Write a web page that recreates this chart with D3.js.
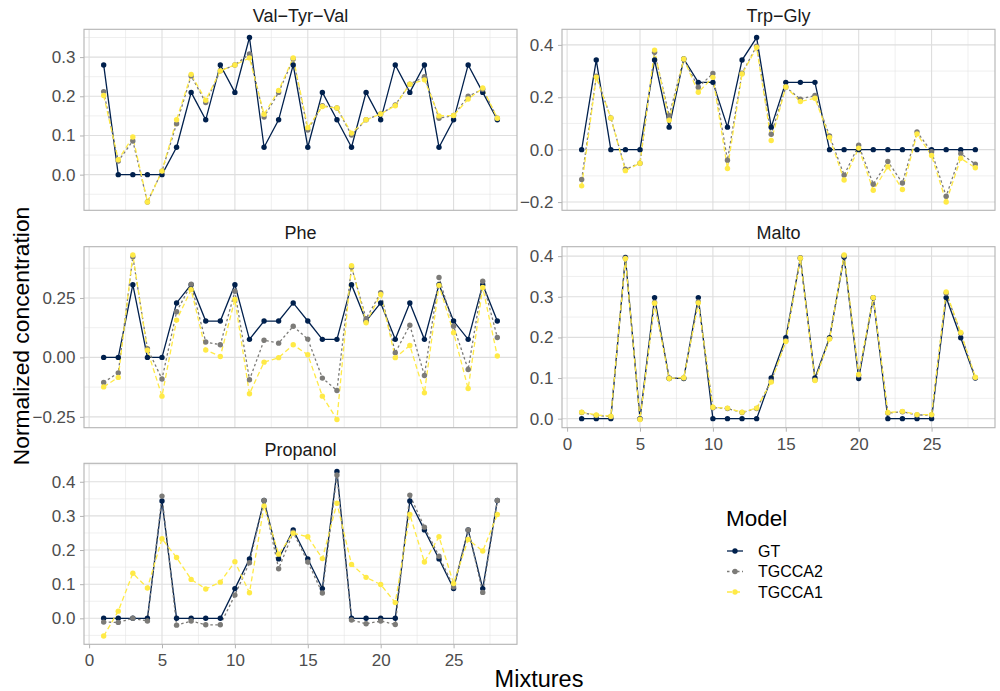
<!DOCTYPE html>
<html>
<head>
<meta charset="utf-8">
<script src="https://cdn.jsdelivr.net/npm/d3@7"></script>
<style>
    body { margin: 0; background: #fff; }
    svg text { font-family: "Liberation Sans", Arial, Helvetica, sans-serif; }
</style>
</head>
<body>
<div id="chart"></div>
<script>
var mixtures = [1, 2, 3, 4, 5, 6, 7, 8, 9, 10, 11, 12, 13, 14, 15, 16, 17, 18, 19, 20, 21, 22, 23, 24, 25, 26, 27, 28];
var models = ["GT", "TGCCA2", "TGCCA1"];

var valTyrValGT = [0.28, 0, 0, 0, 0, 0.07, 0.21, 0.14, 0.28, 0.21, 0.35, 0.07, 0.14, 0.28, 0.07, 0.21, 0.14, 0.07, 0.21, 0.14, 0.28, 0.21, 0.28, 0.07, 0.14, 0.28, 0.21, 0.14];
var valTyrValTGCCA2 = [0.212, 0.035, 0.086, -0.07, 0.009, 0.13, 0.252, 0.184, 0.265, 0.28, 0.308, 0.147, 0.21, 0.295, 0.114, 0.176, 0.17, 0.101, 0.14, 0.155, 0.178, 0.231, 0.25, 0.144, 0.151, 0.2, 0.218, 0.144];
var valTyrValTGCCA1 = [0.202, 0.038, 0.096, -0.07, 0.009, 0.14, 0.256, 0.19, 0.265, 0.28, 0.298, 0.154, 0.215, 0.298, 0.12, 0.174, 0.17, 0.106, 0.14, 0.155, 0.176, 0.231, 0.242, 0.15, 0.151, 0.193, 0.221, 0.144];

var trpGlyGT = [0, 0.342, 0, 0, 0, 0.342, 0.086, 0.346, 0.257, 0.257, 0.086, 0.342, 0.428, 0.086, 0.257, 0.257, 0.257, 0, 0, 0, 0, 0, 0, 0, 0, 0, 0, 0];
var trpGlyTGCCA2 = [-0.114, 0.28, 0.121, -0.075, -0.052, 0.372, 0.13, 0.346, 0.238, 0.291, -0.04, 0.292, 0.395, 0.059, 0.239, 0.193, 0.207, 0.052, -0.097, 0.017, -0.132, -0.045, -0.127, 0.068, -0.008, -0.178, -0.015, -0.055];
var trpGlyTGCCA1 = [-0.138, 0.277, 0.121, -0.08, -0.052, 0.38, 0.112, 0.346, 0.219, 0.276, -0.072, 0.289, 0.39, 0.035, 0.239, 0.184, 0.196, 0.047, -0.116, 0.006, -0.155, -0.065, -0.152, 0.06, -0.022, -0.2, -0.033, -0.069];

var pheGT = [0, 0, 0.306, 0, 0, 0.229, 0.306, 0.153, 0.153, 0.306, 0.076, 0.153, 0.153, 0.229, 0.153, 0.076, 0.076, 0.306, 0.153, 0.229, 0.076, 0.229, 0.076, 0.306, 0.153, 0.076, 0.306, 0.153];
var pheTGCCA2 = [-0.105, -0.065, 0.423, 0.037, -0.091, 0.192, 0.308, 0.065, 0.053, 0.278, -0.094, 0.072, 0.06, 0.131, 0.077, -0.087, -0.139, 0.38, 0.163, 0.272, 0.02, 0.135, -0.076, 0.336, 0.131, -0.051, 0.32, 0.084];
var pheTGCCA1 = [-0.124, -0.084, 0.431, 0.03, -0.163, 0.157, 0.285, 0.031, 0.004, 0.244, -0.153, -0.02, -0.001, 0.053, 0.011, -0.163, -0.261, 0.386, 0.146, 0.265, -0.001, 0.05, -0.149, 0.303, 0.104, -0.131, 0.294, 0.006];

var maltoGT = [0, 0, 0, 0.397, 0, 0.298, 0.099, 0.099, 0.298, 0, 0, 0, 0, 0.1, 0.199, 0.395, 0.1, 0.199, 0.398, 0.099, 0.298, 0, 0, 0, 0, 0.298, 0.199, 0.1];
var maltoTGCCA2 = [0.015, 0.008, 0.005, 0.395, -0.001, 0.286, 0.1, 0.1, 0.287, 0.027, 0.025, 0.015, 0.025, 0.092, 0.192, 0.396, 0.095, 0.197, 0.401, 0.107, 0.297, 0.014, 0.017, 0.009, 0.009, 0.309, 0.21, 0.101];
var maltoTGCCA1 = [0.016, 0.009, 0.006, 0.394, -0.002, 0.284, 0.099, 0.101, 0.285, 0.028, 0.026, 0.016, 0.026, 0.09, 0.19, 0.395, 0.094, 0.196, 0.403, 0.109, 0.298, 0.015, 0.018, 0.01, 0.01, 0.312, 0.212, 0.102];

var propanolGT = [0, 0, 0, 0, 0.344, 0, 0, 0, 0, 0.087, 0.174, 0.345, 0.174, 0.259, 0.174, 0.087, 0.43, 0, 0, 0, 0, 0.344, 0.259, 0.174, 0.087, 0.259, 0.087, 0.345];
var propanolTGCCA2 = [-0.011, -0.012, 0, -0.008, 0.358, -0.02, -0.008, -0.019, -0.019, 0.068, 0.163, 0.345, 0.145, 0.252, 0.165, 0.074, 0.42, -0.005, -0.016, -0.008, -0.018, 0.361, 0.267, 0.182, 0.092, 0.259, 0.076, 0.345];
var propanolTGCCA1 = [-0.052, 0.021, 0.132, 0.089, 0.233, 0.178, 0.114, 0.086, 0.106, 0.166, 0.075, 0.329, 0.188, 0.249, 0.239, 0.175, 0.337, 0.158, 0.12, 0.099, 0.046, 0.304, 0.165, 0.239, 0.102, 0.231, 0.197, 0.304];

var xTicks = [0, 5, 10, 15, 20, 25];
var valTyrValTicks = [0, 0.1, 0.2, 0.3];
var trpGlyTicks = [-0.2, 0, 0.2, 0.4];
var pheTicks = [-0.25, 0, 0.25];
var maltoTicks = [0, 0.1, 0.2, 0.3, 0.4];
var propanolTicks = [0, 0.1, 0.2, 0.3, 0.4];

var colorScale = d3.scaleOrdinal()
    .domain(models)
    .range(["#00204D", "#7C7B78", "#FFEA46"]);
var dashScale = d3.scaleOrdinal()
    .domain(models)
    .range([null, "2.5,2.5", "5,3"]);

var panels = [
    { title: "Val\u2212Tyr\u2212Val", series: [valTyrValGT, valTyrValTGCCA2, valTyrValTGCCA1], ticks: valTyrValTicks, digits: 1, col: 0, row: 0, xAxis: false },
    { title: "Trp\u2212Gly", series: [trpGlyGT, trpGlyTGCCA2, trpGlyTGCCA1], ticks: trpGlyTicks, digits: 1, col: 1, row: 0, xAxis: false },
    { title: "Phe", series: [pheGT, pheTGCCA2, pheTGCCA1], ticks: pheTicks, digits: 2, col: 0, row: 1, xAxis: false },
    { title: "Malto", series: [maltoGT, maltoTGCCA2, maltoTGCCA1], ticks: maltoTicks, digits: 1, col: 1, row: 1, xAxis: true },
    { title: "Propanol", series: [propanolGT, propanolTGCCA2, propanolTGCCA1], ticks: propanolTicks, digits: 1, col: 0, row: 2, xAxis: true }
];

var width = 1000, height = 691;
var colLeft = [84, 562],
    rowTop = [29.3, 246.7, 463.3],
    panelW = 433,
    panelH = 181;

var svg = d3.select("#chart").append("svg")
    .attr("width", width)
    .attr("height", height);

svg.append("rect").attr("width", width).attr("height", height).attr("fill", "#fff");

panels.forEach(function(p) {
    var g = svg.append("g")
        .attr("transform", "translate(" + colLeft[p.col] + "," + rowTop[p.row] + ")");

    var x = d3.scaleLinear().domain([-0.35, 29.35]).range([0, panelW]);

    var ext = d3.extent(d3.merge(p.series));
    var pad = (ext[1] - ext[0]) * 0.05;
    var y = d3.scaleLinear().domain([ext[0] - pad, ext[1] + pad]).range([panelH, 0]);

    // minor breaks halfway between majors
    var step = p.ticks[1] - p.ticks[0];
    var yMinor = p.ticks.map(function(t) { return t - step / 2; })
        .concat([p.ticks[p.ticks.length - 1] + step / 2])
        .filter(function(v) { return v >= y.domain()[0] && v <= y.domain()[1]; });
    var xMinor = xTicks.map(function(t) { return t + 2.5; })
        .filter(function(v) { return v <= x.domain()[1]; });

    g.append("rect")
        .attr("width", panelW)
        .attr("height", panelH)
        .attr("fill", "#fff");

    g.selectAll(".ymin").data(yMinor).enter().append("line")
        .attr("x1", 0).attr("x2", panelW)
        .attr("y1", y).attr("y2", y)
        .attr("stroke", "#E4E4E4").attr("stroke-width", 0.6);
    g.selectAll(".xmin").data(xMinor).enter().append("line")
        .attr("y1", 0).attr("y2", panelH)
        .attr("x1", x).attr("x2", x)
        .attr("stroke", "#E4E4E4").attr("stroke-width", 0.6);
    g.selectAll(".ymaj").data(p.ticks).enter().append("line")
        .attr("x1", 0).attr("x2", panelW)
        .attr("y1", y).attr("y2", y)
        .attr("stroke", "#DEDEDE").attr("stroke-width", 1.1);
    g.selectAll(".xmaj").data(xTicks).enter().append("line")
        .attr("y1", 0).attr("y2", panelH)
        .attr("x1", x).attr("x2", x)
        .attr("stroke", "#DEDEDE").attr("stroke-width", 1.1);

    var line = d3.line()
        .x(function(d, i) { return x(mixtures[i]); })
        .y(function(d) { return y(d); });

    p.series.forEach(function(values, k) {
        g.append("path")
            .datum(values)
            .attr("d", line)
            .attr("fill", "none")
            .attr("stroke", colorScale(models[k]))
            .attr("stroke-width", 1.3)
            .attr("stroke-dasharray", dashScale(models[k]));
    });

    p.series.forEach(function(values, k) {
        g.selectAll(".pt" + k).data(values).enter().append("circle")
            .attr("cx", function(d, i) { return x(mixtures[i]); })
            .attr("cy", function(d) { return y(d); })
            .attr("r", 2.7)
            .attr("fill", colorScale(models[k]));
    });

    g.append("rect")
        .attr("width", panelW)
        .attr("height", panelH)
        .attr("fill", "none")
        .attr("stroke", "#B3B3B3")
        .attr("stroke-width", 1.1);

    // strip title
    g.append("text")
        .attr("x", panelW / 2)
        .attr("y", -7.6)
        .attr("text-anchor", "middle")
        .style("font-size", "18px")
        .style("fill", "#1A1A1A")
        .text(p.title);

    var yAxis = d3.axisLeft(y)
        .tickValues(p.ticks)
        .tickFormat(d3.format("." + p.digits + "f"))
        .tickSizeOuter(0)
        .tickSize(4)
        .tickPadding(4.5);

    var ya = g.append("g").call(yAxis);
    ya.select(".domain").remove();
    ya.selectAll("line").attr("stroke", "#B3B3B3");
    ya.selectAll("text").style("font-size", "17px").attr("fill", "#4D4D4D");

    if (p.xAxis) {
        var xAxis = d3.axisBottom(x)
            .tickValues(xTicks)
            .tickSizeOuter(0)
            .tickSize(4)
            .tickPadding(6);
        var xa = g.append("g")
            .attr("transform", "translate(0," + panelH + ")")
            .call(xAxis);
        xa.select(".domain").remove();
        xa.selectAll("line").attr("stroke", "#B3B3B3");
        xa.selectAll("text").style("font-size", "17px").attr("fill", "#4D4D4D");
    }
});

// axis titles
svg.append("text")
    .attr("transform", "translate(28.5,336) rotate(-90)")
    .attr("text-anchor", "middle")
    .style("font-size", "22.8px")
    .text("Normalized concentration");

svg.append("text")
    .attr("x", 539)
    .attr("y", 687)
    .attr("text-anchor", "middle")
    .style("font-size", "23.5px")
    .text("Mixtures");

// legend
var legend = svg.append("g").attr("transform", "translate(726,0)");
legend.append("text")
    .attr("x", 0)
    .attr("y", 525.7)
    .style("font-size", "22.5px")
    .text("Model");

var legendItems = legend.selectAll(".item")
    .data(models)
    .enter()
    .append("g")
    .attr("transform", function(d, i) { return "translate(0," + (551 + i * 20.5) + ")"; });

legendItems.append("line")
    .attr("x1", 1).attr("x2", 17)
    .attr("stroke", colorScale)
    .attr("stroke-width", 1.3)
    .attr("stroke-dasharray", dashScale);
legendItems.append("circle")
    .attr("cx", 9)
    .attr("r", 2.7)
    .attr("fill", colorScale);
legendItems.append("text")
    .attr("x", 32)
    .attr("y", 5.8)
    .style("font-size", "16px")
    .text(function(d) { return d; });
</script>
</body>
</html>
